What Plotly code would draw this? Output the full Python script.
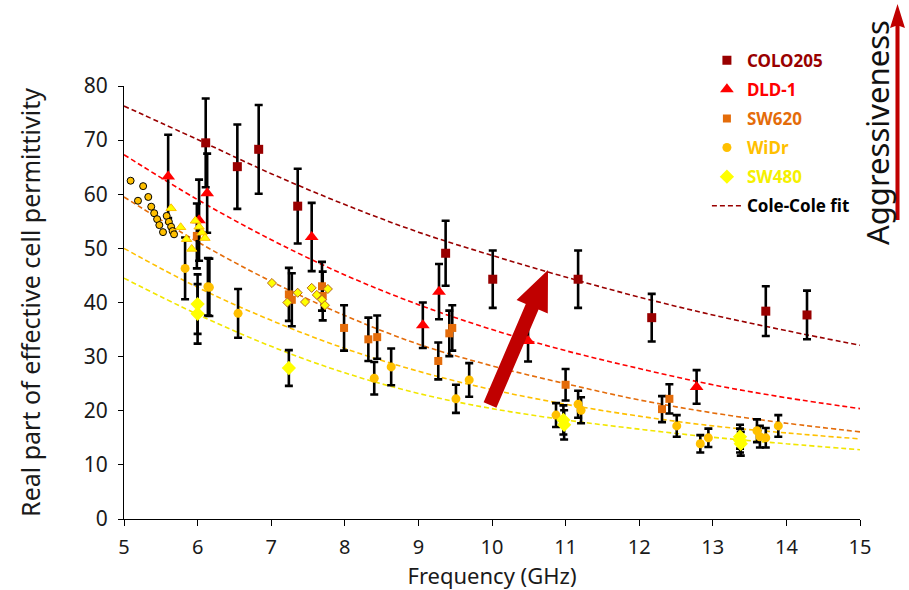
import plotly.graph_objects as go

# ---------------- data ----------------
freq_grid = [5, 6, 7, 8, 9, 10, 11, 12, 13, 14, 15]
fit_colo205 = [76.3, 70.1, 63.8, 58.1, 53.0, 48.7, 44.7, 41.0, 37.7, 34.8, 32.1]
fit_dld1 = [67.3, 59.0, 51.6, 45.1, 39.6, 35.0, 31.1, 27.8, 24.8, 22.4, 20.4]
fit_sw620 = [59.5, 51.2, 43.9, 37.6, 32.3, 28.3, 25.0, 22.0, 19.6, 17.7, 16.1]
fit_widr = [50.0, 42.8, 36.7, 31.5, 27.3, 23.9, 21.2, 19.0, 17.2, 15.9, 14.8]
fit_sw480 = [44.5, 37.8, 31.9, 27.0, 23.2, 20.4, 18.3, 16.6, 15.1, 13.9, 12.8]

colo205_f = [6.11, 6.54, 6.83, 7.36, 9.37, 10.01, 11.17, 12.17, 13.72, 14.28]
colo205_v = [69.5, 65.1, 68.3, 57.8, 49.1, 44.3, 44.3, 37.2, 38.4, 37.7]
colo205_e = [8.2, 7.8, 8.2, 6.9, 6.0, 5.3, 5.3, 4.4, 4.6, 4.5]

dld1_f = [5.60, 6.02, 6.13, 7.55, 9.06, 9.28, 10.49, 12.78]
dld1_v = [63.3, 55.2, 60.2, 52.1, 35.8, 42.0, 32.9, 24.4]
dld1_e = [7.7, 7.5, 7.3, 6.3, 4.2, 5.1, 3.8, 3.1]

sw620_f = [5.99, 7.24, 7.28, 7.69, 7.70, 7.99, 8.32, 8.44, 9.27, 9.42, 9.46, 11.00, 12.31, 12.41]
sw620_v = [52.3, 41.5, 40.5, 43.0, 41.2, 35.3, 33.2, 33.6, 29.2, 34.3, 35.3, 24.8, 20.3, 22.2]
sw620_e = [6.0, 4.9, 4.9, 4.5, 4.5, 4.2, 4.0, 4.0, 3.4, 4.2, 4.2, 2.9, 2.4, 2.7]

widr_f = [5.83, 6.14, 6.16, 6.55, 8.40, 8.63, 9.51, 9.69, 10.87, 11.17, 11.21, 12.51,
          12.83, 12.94, 13.60, 13.64, 13.72, 13.89]
widr_v = [46.3, 42.9, 42.8, 38.0, 26.0, 28.1, 22.2, 25.7, 19.2, 21.2, 20.1, 17.2,
          13.9, 15.0, 16.3, 15.2, 15.0, 17.2]
widr_e = [5.7, 5.3, 5.3, 4.5, 3.0, 3.4, 2.6, 3.1, 2.2, 2.5, 2.4, 2.0,
          1.6, 1.7, 2.1, 2.0, 1.8, 2.0]

sw480_f = [6.00, 6.00, 7.24, 10.97, 10.98, 13.37, 13.37, 13.38]
sw480_v = [39.7, 37.9, 27.9, 18.3, 17.4, 15.2, 14.5, 13.9]
sw480_e = [5.5, 5.5, 3.3, 2.7, 2.7, 2.2, 2.2, 2.2]

# low-frequency measurements drawn with outlined markers
widr_lf_f = [5.09, 5.26, 5.19, 5.33, 5.37, 5.41, 5.45, 5.48, 5.58, 5.61, 5.53, 5.64, 5.66, 5.68]
widr_lf_v = [62.5, 61.5, 58.8, 59.5, 57.7, 56.5, 55.4, 54.3, 56.0, 54.9, 53.0, 54.0, 53.2, 52.6]
tri_lf_f = [5.64, 5.77, 5.85, 5.92, 5.97, 6.02, 6.06, 6.10]
tri_lf_v = [57.4, 53.9, 51.7, 49.9, 55.1, 54.0, 52.9, 51.9]
dia_mf_f = [7.01, 7.22, 7.36, 7.46, 7.55, 7.62, 7.69, 7.73, 7.77]
dia_mf_v = [43.6, 40.0, 41.8, 40.1, 42.7, 41.4, 40.5, 39.5, 42.5]

x_ticks = [5, 6, 7, 8, 9, 10, 11, 12, 13, 14, 15]
y_ticks = [0, 10, 20, 30, 40, 50, 60, 70, 80]

C_COLO = "#990000"
C_DLD = "#FF0000"
C_SW620 = "#E46C0A"
C_WIDR = "#FFC000"
C_SW480 = "#FFFF00"
C_SW480_TXT = "#F5F000"
C_SW480_LINE = "#F2E600"

FONT = "Noto Sans"

fig = go.Figure()

# Cole-Cole fits (drawn first so markers sit on top)
fits = [(fit_colo205, C_COLO, True), (fit_dld1, C_DLD, False), (fit_sw620, C_SW620, False),
        (fit_widr, C_WIDR, False), (fit_sw480, C_SW480_LINE, False)]
for vals, col, show in fits:
    fig.add_trace(go.Scatter(
        x=freq_grid, y=vals, mode="lines", line=dict(color=col, width=1.6, dash="5px,3px", shape="spline"),
        name="<b><span style='color:#000000'>Cole-Cole fit</span></b>", showlegend=show, legendrank=6,
        legendgroup="fit", hoverinfo="skip"))

err_style = dict(type="data", color="black", thickness=2.6, width=4)

def series(fx, vy, ey, name, col, txtcol, symbol, size, rank):
    fig.add_trace(go.Scatter(
        x=fx, y=vy, mode="markers", name=f"<b><span style='color:{txtcol}'>{name}</span></b>",
        error_y=dict(array=ey, **err_style), legendgroup=name,
        marker=dict(color=col, symbol=symbol, size=size, line=dict(width=0)),
        legendrank=rank))

series(colo205_f, colo205_v, colo205_e, "COLO205", C_COLO, C_COLO, "square", 9, 1)
series(sw620_f, sw620_v, sw620_e, "SW620", C_SW620, C_SW620, "square", 8, 3)
series(widr_f, widr_v, widr_e, "WiDr", C_WIDR, C_WIDR, "circle", 9, 4)
series(sw480_f, sw480_v, sw480_e, "SW480", C_SW480, C_SW480_TXT, "diamond", 11, 5)
series(dld1_f, dld1_v, dld1_e, "DLD-1", C_DLD, C_DLD, "triangle-up", 12, 2)

fig.add_trace(go.Scatter(x=widr_lf_f, y=widr_lf_v, mode="markers", showlegend=False,
                         marker=dict(color=C_WIDR, symbol="circle", size=7, line=dict(color="black", width=1))))
fig.add_trace(go.Scatter(x=tri_lf_f, y=tri_lf_v, mode="markers", showlegend=False,
                         marker=dict(color=C_SW480, symbol="triangle-up", size=9, line=dict(color=C_WIDR, width=1))))
fig.add_trace(go.Scatter(x=dia_mf_f, y=dia_mf_v, mode="markers", showlegend=False,
                         marker=dict(color=C_SW480, symbol="diamond", size=7, line=dict(color="#B8651B", width=1))))

# ---------------- decorations ----------------
# target plot area on the page (reference pixels)
L, T, W, H = 124, 86, 736, 433
FIG_W, FIG_H = 909, 590

def P(px, py):
    return ((px - L) / W, (T + H - py) / H)

def path(points):
    s = ""
    for i, (px, py) in enumerate(points):
        x, y = P(px, py)
        s += ("M" if i == 0 else "L") + f"{x:.4f},{y:.4f} "
    return s + "Z"

arrow_pts = [(483.6, 402.2), (525.8, 304.0), (516.6, 300.1), (548, 270),
             (547.8, 313.5), (538.6, 309.6), (496.4, 407.8)]
v_arrow = [(895.5, 220), (895.5, 26), (890, 28), (897.5, 4), (905, 28), (899.5, 26), (899.5, 220)]
shapes = [
    dict(type="path", xref="paper", yref="paper", path=path(arrow_pts), fillcolor="#C00000", line=dict(width=0)),
    dict(type="path", xref="paper", yref="paper", path=path(v_arrow), fillcolor="#C00000", line=dict(width=0)),
]

ax, ay = P(877, 133)
annotations = [dict(xref="paper", yref="paper", x=ax, y=ay, xanchor="center", yanchor="middle",
                    text="Aggressiveness", showarrow=False, textangle=-90,
                    font=dict(family=FONT, size=31, color="#111111"))]

fig.update_layout(
    width=FIG_W, height=FIG_H, margin=dict(l=L, r=FIG_W - L - W, t=T, b=FIG_H - T - H),
    paper_bgcolor="white", plot_bgcolor="white",
    font=dict(family=FONT, color="#1a1a1a"),
    shapes=shapes, annotations=annotations,
    legend=dict(x=0.792, y=1.10, xanchor="left", yanchor="top", bgcolor="rgba(0,0,0,0)",
                font=dict(family=FONT, size=17), tracegroupgap=4, itemwidth=30),
    xaxis=dict(range=[5, 15], tickvals=x_ticks, ticktext=[str(t) for t in x_ticks], automargin=False,
               showgrid=False, zeroline=False, showline=True, linecolor="black", linewidth=1,
               ticks="outside", ticklen=6, tickcolor="black", tickfont=dict(size=20, color="#1a1a1a"),
               ticklabelstandoff=4,
               title=dict(text="Frequency (GHz)", font=dict(size=22, color="#1a1a1a"), standoff=4)),
    yaxis=dict(range=[0, 80], tickvals=y_ticks, showgrid=False, zeroline=False, showline=True,
               automargin=False,
               linecolor="black", linewidth=1, ticks="outside", ticklen=5, tickcolor="black",
               tickfont=dict(size=21, color="#1a1a1a"), ticklabelstandoff=6,
               title=dict(text="Real part of effective cell permittivity", font=dict(size=25, color="#1a1a1a"),
                          standoff=36)),
)

fig.write_html("out.html", config={"displayModeBar": False},
               post_script="document.body.style.margin='0';")
